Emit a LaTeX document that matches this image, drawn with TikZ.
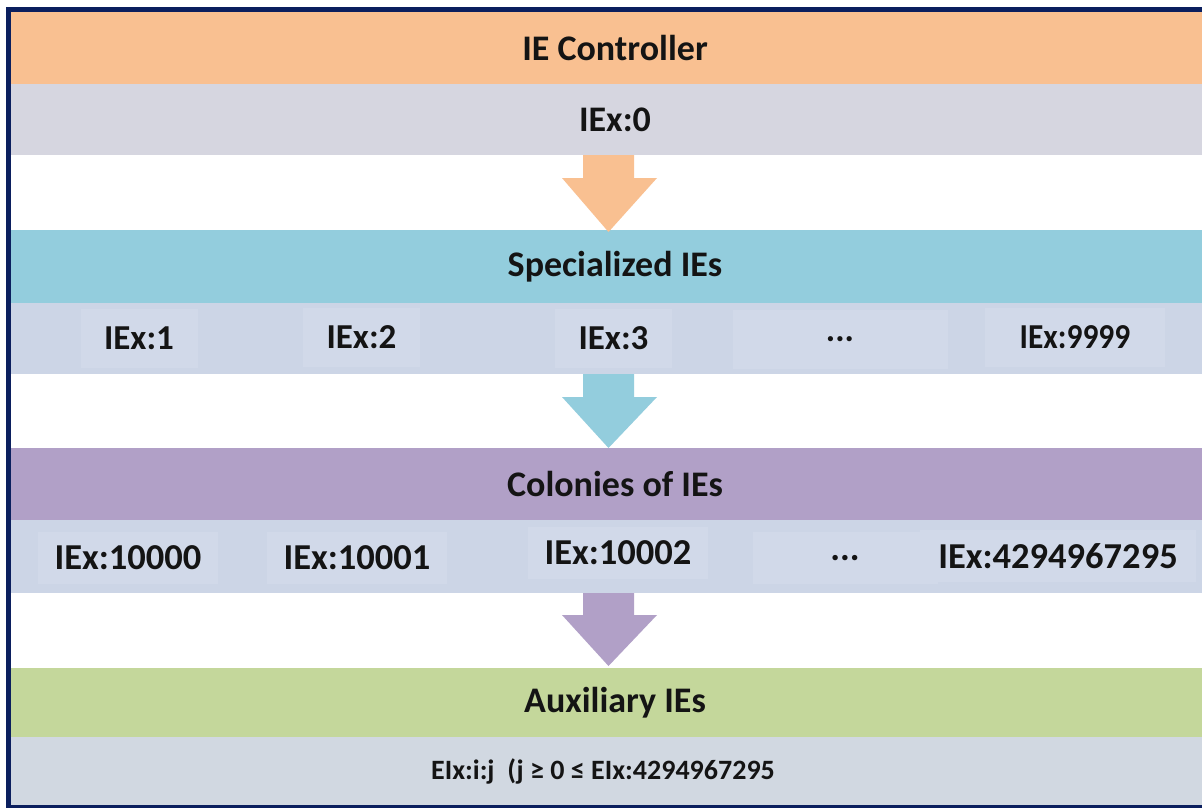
\documentclass[tikz,border=0pt]{standalone}
\usepackage{fontspec}
\setmainfont{Carlito}
\definecolor{navy}{HTML}{0B1F5E}
\definecolor{orangeband}{HTML}{F9C091}
\definecolor{grayband}{HTML}{D6D6E0}
\definecolor{blueband}{HTML}{93CDDD}
\definecolor{rowband}{HTML}{CCD5E6}
\definecolor{subbox}{HTML}{D1D9E9}
\definecolor{purpleband}{HTML}{B1A0C7}
\definecolor{greenband}{HTML}{C4D79B}
\definecolor{bottomband}{HTML}{D1D8E1}
\definecolor{txt}{HTML}{141414}
\begin{document}
\begin{tikzpicture}[x=1pt,y=-1pt,
  band/.style={inner sep=0pt, outer sep=0pt, minimum width=1208pt, text=txt,
    font=\fontsize{36}{40}\selectfont\bfseries},
  subitem/.style={fill=subbox, inner sep=0pt, outer sep=0pt, text=txt,
    font=\fontsize{35}{40}\selectfont\bfseries},
  bigitem/.style={subitem, font=\fontsize{36.5}{40}\selectfont\bfseries}]
\useasboundingbox (0,0) rectangle (1202,808);
\fill[white] (0,0) rectangle (1202,808);
% bands
\node[band, fill=orangeband, minimum height=72pt] (ctrl) at (615,48) {IE Controller};
\node[band, fill=grayband, minimum height=71pt] (ie0) at (615,119.5) {IEx:0};
\node[band, fill=blueband, minimum height=73pt] (spec) at (615,266.5) {Specialized IEs};
\node[band, fill=rowband, minimum height=71pt] (specrow) at (615,338.5) {};
\node[band, fill=purpleband, minimum height=72pt] (colo) at (615,484) {Colonies of IEs};
\node[band, fill=rowband, minimum height=73pt] (colorow) at (615,556.5) {};
\node[band, fill=greenband, minimum height=69pt] (aux) at (615,702.5) {Auxiliary IEs};
\node[band, fill=bottomband, minimum height=68pt] (auxrow) at (615,771) {};
\node[inner sep=0pt, text=txt, font=\fontsize{28}{30}\selectfont\bfseries] (auxtext) at (603,771) {EIx:i:j\ \ (j ≥ 0 ≤ EIx:4294967295};
% specialized items
\node[subitem, minimum width=117pt, minimum height=59pt] (e1) at (139,338) {IEx:1};
\node[subitem, minimum width=117pt, minimum height=59pt] (e2) at (361.5,337.5) {IEx:2};
\node[subitem, minimum width=117pt, minimum height=59pt] (e3) at (613.5,338.5) {IEx:3};
\node[subitem, minimum width=215pt, minimum height=59pt] (edots) at (840,339) {...};
\node[subitem, minimum width=180pt, minimum height=59pt] (e9999) at (1075,337) {\scalebox{0.9}[1]{IEx:9999}};
% colony items
\node[bigitem, minimum width=180pt, minimum height=52pt] (f1) at (128,558) {IEx:10000};
\node[bigitem, minimum width=180pt, minimum height=52pt] (f2) at (357,558) {IEx:10001};
\node[bigitem, minimum width=180pt, minimum height=52pt] (f3) at (618,553) {IEx:10002};
\node[bigitem, minimum width=185pt, minimum height=52pt] (fdots) at (845,558) {...};
\node[bigitem, minimum width=276pt, minimum height=52pt] (f5) at (1058,556) {IEx:4294967295};
% block arrows
\fill[orangeband] (583,155) -- (634,155) -- (634,178) -- (657,178) -- (608.5,232) -- (562,178) -- (583,178) -- cycle;
\fill[blueband] (583,374) -- (634,374) -- (634,397) -- (657,397) -- (608.5,448) -- (562,397) -- (583,397) -- cycle;
\fill[purpleband] (583,593) -- (634,593) -- (634,615) -- (657,615) -- (608.5,666) -- (562,615) -- (583,615) -- cycle;
% frame
\fill[navy] (6,7) rectangle (1202,12);
\fill[navy] (6,7) rectangle (11,808);
\fill[navy] (6,805) rectangle (1202,808);
\end{tikzpicture}
\end{document}
